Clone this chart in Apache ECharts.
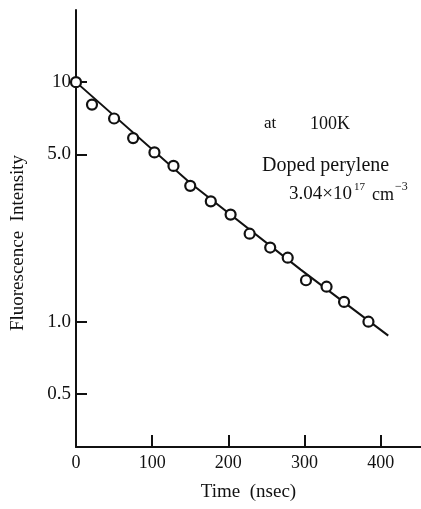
<!DOCTYPE html>
<html>
<head>
<meta charset="utf-8">
<script src="https://cdn.jsdelivr.net/npm/echarts@6/dist/echarts.min.js"></script>
<style>
  html, body { margin: 0; padding: 0; background: #fff; }
  #chart { width: 421px; height: 509px; }
</style>
</head>
<body>
<div id="chart"></div>
<script>
// measured points (time in nsec, intensity)
var times = [0, 21, 50, 75, 103, 128, 150, 177, 203, 228, 255, 278, 302, 329, 352, 384];
var intensity = [10, 8.06, 7.05, 5.84, 5.09, 4.47, 3.69, 3.18, 2.80, 2.33, 2.04, 1.85, 1.49, 1.40, 1.21, 1.0];

// drawn fit line
var fitTimes = [0, 150, 295, 410];
var fitValues = [10, 3.79, 1.65, 0.875];

var xTicks = [0, 100, 200, 300, 400];
var yTicks = [0.5, 1, 5, 10];

var font = '"Liberation Serif", "DejaVu Serif", serif';

var myChart = echarts.init(document.getElementById('chart'));

var points = times.map(function (t, i) { return [t, intensity[i]]; });
var fit = fitTimes.map(function (t, i) { return [t, fitValues[i]]; });

var option = {
  animation: false,
  backgroundColor: '#fff',
  grid: { left: 76, right: 0, top: 10, bottom: 62, containLabel: false, outerBoundsMode: 'none' },
  xAxis: {
    type: 'value',
    min: 0,
    max: 453,
    interval: 100,
    name: 'Time  (nsec)',
    nameLocation: 'middle',
    nameGap: 36,
    nameTextStyle: { fontFamily: font, fontSize: 19, color: '#111' },
    axisLine: { lineStyle: { color: '#111', width: 2 } },
    axisTick: { inside: true, length: 12, lineStyle: { color: '#111', width: 2 }, customValues: [100, 200, 300, 400] },
    axisLabel: { customValues: xTicks, fontFamily: font, fontSize: 18, color: '#111', margin: 7 },
    splitLine: { show: false }
  },
  yAxis: {
    type: 'log',
    logBase: 10,
    min: 0.3,
    max: 20,
    axisLine: { lineStyle: { color: '#111', width: 2 } },
    axisTick: { inside: true, length: 11, lineStyle: { color: '#111', width: 2 }, customValues: yTicks },
    axisLabel: {
      customValues: yTicks,
      fontFamily: font, fontSize: 19, color: '#111', margin: 5,
      formatter: function (v) { return v >= 10 ? String(Math.round(v)) : v.toFixed(1); }
    },
    splitLine: { show: false }
  },
  graphic: [
    { type: 'text', x: 18, y: 243, rotation: Math.PI / 2,
      style: { text: 'Fluorescence  Intensity', font: '19px ' + font, fill: '#111', textAlign: 'center', textVerticalAlign: 'middle' } },
    { type: 'text', x: 264, y: 124,
      style: { text: 'at', font: '17px ' + font, fill: '#111', textVerticalAlign: 'middle' } },
    { type: 'text', x: 310, y: 124,
      style: { text: '100K', font: '18px ' + font, fill: '#111', textVerticalAlign: 'middle' } },
    { type: 'text', x: 262, y: 166,
      style: { text: 'Doped perylene', font: '20px ' + font, fill: '#111', textVerticalAlign: 'middle' } },
    { type: 'text', x: 289, y: 194,
      style: { text: '3.04×10', font: '19px ' + font, fill: '#111', textVerticalAlign: 'middle' } },
    { type: 'text', x: 354, y: 187,
      style: { text: '17', font: '11px ' + font, fill: '#111', textVerticalAlign: 'middle' } },
    { type: 'text', x: 372, y: 195,
      style: { text: 'cm', font: '18px ' + font, fill: '#111', textVerticalAlign: 'middle' } },
    { type: 'text', x: 395, y: 187,
      style: { text: '−3', font: '12px ' + font, fill: '#111', textVerticalAlign: 'middle' } }
  ],
  series: [
    {
      type: 'line',
      data: fit,
      symbol: 'none',
      lineStyle: { color: '#111', width: 2 },
      z: 2
    },
    {
      type: 'scatter',
      data: points,
      symbol: 'circle',
      symbolSize: 10,
      itemStyle: { color: '#fff', borderColor: '#111', borderWidth: 2.2, opacity: 1 },
      z: 3
    }
  ]
};

myChart.setOption(option);
</script>
</body>
</html>
